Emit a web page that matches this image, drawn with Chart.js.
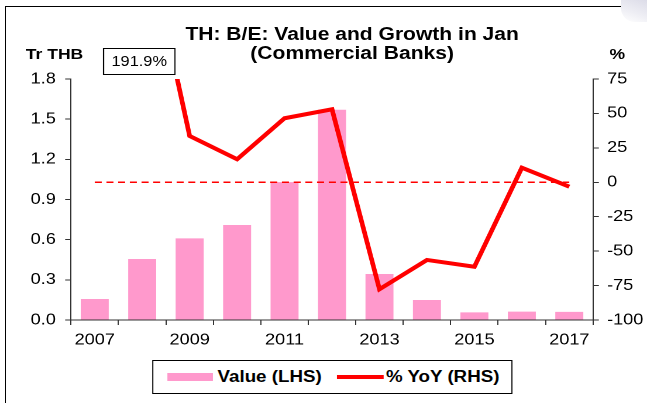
<!DOCTYPE html>
<html>
<head>
<meta charset="utf-8">
<title>TH: B/E: Value and Growth in Jan</title>
<script src="https://cdn.jsdelivr.net/npm/chart.js@4/dist/chart.umd.min.js"></script>
<style>
    html, body { margin: 0; padding: 0; background: #fff; }
    body {
        width: 647px; height: 403px; position: relative; overflow: hidden;
        font-family: "Liberation Sans", Arial, sans-serif; color: #000;
    }
    .frame {
        position: absolute; left: 5px; top: 6px; width: 617px; height: 400px;
        border-left: 1px solid #000; border-top: 1px solid #000;
    }
    .corner {
        position: absolute; right: 0; top: 0; width: 26px; height: 22px;
        background: linear-gradient(200deg, #dcdce8 0%, #eeeef4 55%, #fff 100%);
        border-bottom-left-radius: 14px;
    }
    /* the reference is slightly stretched sideways, so draw narrower and scale */
    #stage {
        position: absolute; left: 0; top: 0; width: 553px; height: 403px;
        transform: scaleX(1.17); transform-origin: 0 0;
    }
    #stage canvas { position: absolute; left: 0; top: 0; }
    .title {
        position: absolute; left: 101px; top: 25px; width: 400px;
        text-align: center; font-weight: bold; font-size: 18px; line-height: 19px;
    }
    .unit { position: absolute; top: 46px; font-weight: bold; font-size: 15px; line-height: 15px; }
    .note {
        position: absolute; left: 88px; top: 48px; width: 62px; height: 27px;
        box-sizing: border-box; border: 1px solid #000; background: #fff;
        text-align: center; font-size: 14px; line-height: 25px;
    }
    .legend {
        position: absolute; left: 130px; top: 360px; width: 308px; height: 34px;
        box-sizing: border-box; border: 1px solid #000; background: #fff;
        display: flex; align-items: center; padding-left: 12px;
        font-weight: bold; font-size: 16px;
    }
    .legend .swatch { width: 39px; height: 8px; margin-right: 4px; }
    .legend .stroke { width: 40px; height: 4px; margin-left: 13px; margin-right: 2px; }
</style>
</head>
<body>
<div class="frame"></div>
<div class="corner"></div>
<div id="stage">
    <canvas id="beChart" width="553" height="403"></canvas>
    <div class="title">TH: B/E: Value and Growth in Jan<br>(Commercial Banks)</div>
    <div class="unit" style="left:22px">Tr THB</div>
    <div class="unit" style="left:521px">%</div>
    <div class="note" id="note"></div>
    <div class="legend" id="legend"></div>
</div>
<script>
const years = ['2007', '2008', '2009', '2010', '2011', '2012', '2013', '2014', '2015', '2016', '2017'];
const shownYears = ['2007', '2009', '2011', '2013', '2015', '2017'];
const valueTrThb = [0.157, 0.456, 0.61, 0.71, 1.03, 1.57, 0.344, 0.149, 0.057, 0.063, 0.061];
const yoyPct = [null, 191.9, 33.6, 16.7, 46.5, 53, -77.7, -56.4, -61.3, 10.6, -3.2];
const zeroLine = [0, 0, 0, 0, 0, 0, 0, 0, 0, 0, 0];
const leftTicks = [0, 0.3, 0.6, 0.9, 1.2, 1.5, 1.8];
const rightTicks = [-100, -75, -50, -25, 0, 25, 50, 75];

const pink = '#ff99cc';
const red = '#ff0000';
const axisColor = '#333333';
const tickFont = { family: 'Liberation Sans', size: 15.5 };

// 1.17 = horizontal stretch of the stage
const leftAxisWidth = 71 / 1.17;
const rightAxisWidth = 54 / 1.17;

const setTicks = (values) => (scale) => {
    scale.ticks = values.map(v => ({ value: v }));
};

const datasets = [
    {
        type: 'line',
        label: '% YoY (RHS)',
        data: yoyPct,
        yAxisID: 'y2',
        borderColor: red,
        backgroundColor: red,
        borderWidth: 4,
        pointRadius: 0,
        tension: 0,
        clip: 0,
        order: 1,
    },
    {
        type: 'line',
        data: zeroLine,
        yAxisID: 'y2',
        borderColor: red,
        borderWidth: 1.5,
        borderDash: [6, 4],
        pointRadius: 0,
        order: 2,
    },
    {
        type: 'bar',
        label: 'Value (LHS)',
        data: valueTrThb,
        yAxisID: 'y',
        backgroundColor: pink,
        borderWidth: 0,
        categoryPercentage: 1,
        barPercentage: 0.59,
        order: 3,
    },
];

new Chart(document.getElementById('beChart'), {
    type: 'bar',
    data: { labels: years, datasets },
    options: {
        responsive: false,
        animation: false,
        devicePixelRatio: 2,
        events: [],
        layout: { padding: { top: 79, left: 0, right: 0, bottom: 0 } },
        plugins: {
            legend: { display: false },
            title: { display: false },
            tooltip: { enabled: false },
        },
        scales: {
            x: {
                offset: true,
                grid: { offset: true, drawOnChartArea: false, tickLength: 5, color: axisColor },
                border: { color: axisColor },
                ticks: {
                    autoSkip: false,
                    maxRotation: 0,
                    padding: 6,
                    color: '#000',
                    font: tickFont,
                    callback: (val, i) => shownYears.includes(years[i]) ? years[i] : '',
                },
                afterFit: (scale) => { scale.height = 83; },
            },
            y: {
                position: 'left',
                min: 0,
                max: 1.8,
                grid: { drawOnChartArea: false, tickLength: 5, color: axisColor },
                border: { color: axisColor },
                ticks: { padding: 8, color: '#000', font: tickFont, callback: v => v.toFixed(1) },
                afterBuildTicks: setTicks(leftTicks),
                afterFit: (scale) => { scale.width = leftAxisWidth; },
            },
            y2: {
                position: 'right',
                min: -100,
                max: 75,
                grid: { drawOnChartArea: false, tickLength: 5, color: axisColor },
                border: { color: axisColor },
                ticks: { padding: 7, color: '#000', font: tickFont },
                afterBuildTicks: setTicks(rightTicks),
                afterFit: (scale) => { scale.width = rightAxisWidth; },
            },
        },
    },
});

// label for the 2008 growth point that runs off the top of the chart
document.getElementById('note').textContent = yoyPct[1].toFixed(1) + '%';

// legend box built from the labelled datasets, bar first
const legend = document.getElementById('legend');
datasets.filter(d => d.label).reverse().forEach(d => {
    const mark = document.createElement('span');
    mark.className = d.type === 'bar' ? 'swatch' : 'stroke';
    mark.style.background = d.type === 'bar' ? d.backgroundColor : d.borderColor;
    const text = document.createElement('span');
    text.textContent = d.label;
    legend.appendChild(mark);
    legend.appendChild(text);
});
</script>
</body>
</html>
